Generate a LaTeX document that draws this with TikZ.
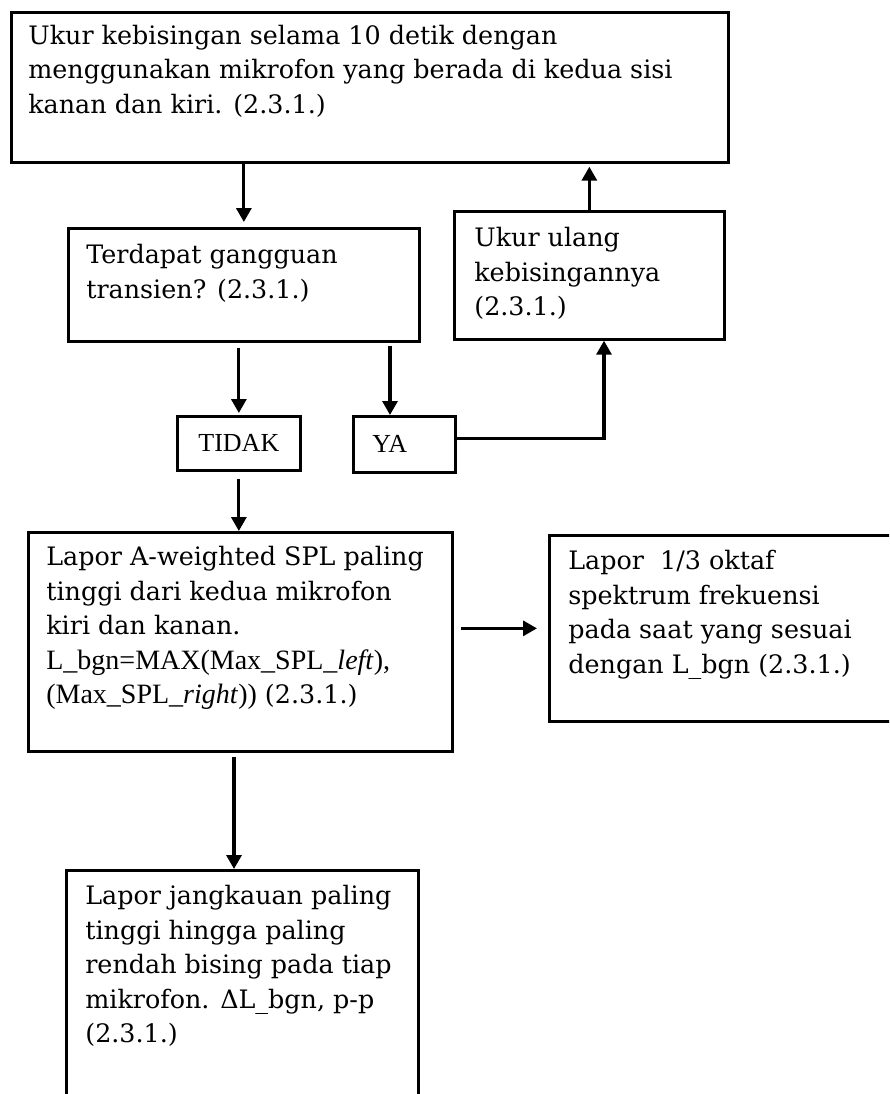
\documentclass[tikz,border=0pt]{standalone}
\usepackage{fontspec}
\setmainfont{DejaVu Serif}
\newfontfamily\tms{Liberation Serif}
\usetikzlibrary{arrows.meta}
\newcommand\bbody[5]{\parbox[c][#1pt][t]{#2pt}{\raggedright\leftskip=#3pt\relax\fontsize{25.4}{34.5}\selectfont\vspace*{#4pt}\strut #5}}
\newcommand\tm[1]{{\tms\fontsize{28}{34.5}\selectfont #1}}
\begin{document}
\begin{tikzpicture}[x=1pt,y=-1pt,
  box/.style={draw, line width=2.7pt, inner sep=0pt, anchor=north west},
  arr/.style={line width=3.2pt, -{Triangle[width=15pt,length=14pt]}}]
\useasboundingbox (0,0) rectangle (889,1094);
\fill[white] (0,0) rectangle (889,1094);
\clip (0,0) rectangle (889,1094);
% boxes
\node[box] (top) at (10,11) {\bbody{150}{717}{17}{8}{\mbox{Ukur kebisingan selama 10 detik dengan}\\\mbox{menggunakan mikrofon yang berada di kedua sisi}\\\mbox{kanan dan kiri. (2.3.1.)}}};
\node[box] (ter) at (67,227) {\bbody{113}{351}{18}{11}{\mbox{Terdapat gangguan}\\\mbox{transien? (2.3.1.)}}};
\node[box] (ulang) at (453,210) {\bbody{128}{270}{20}{11}{\mbox{Ukur ulang}\\\mbox{kebisingannya}\\\mbox{(2.3.1.)}}};
\node[box, minimum width=123pt, minimum height=54pt, font=\tms\fontsize{26}{30}\selectfont] (tidak) at (176,415) {TIDAK};
\node[box] (ya) at (352,415) {\parbox[c][56pt][c]{102pt}{\tms\fontsize{26}{30}\selectfont\hspace*{19pt}YA}};
\node[box] (lapor) at (27,531) {\bbody{219}{424}{18}{9}{\mbox{Lapor A-weighted SPL paling}\\\mbox{tinggi dari kedua mikrofon}\\\mbox{kiri dan kanan.}\\\mbox{\tm{L\_bgn=MAX(Max\_SPL\_\textit{left}),}}\\\mbox{\tm{(Max\_SPL\_\textit{right}))} (2.3.1.)}}};
\node[box] (oktaf) at (548,534) {\bbody{186}{360}{19}{10}{\mbox{Lapor\ \ 1/3 oktaf}\\\mbox{spektrum frekuensi}\\\mbox{pada saat yang sesuai}\\\mbox{dengan L\_bgn (2.3.1.)}}};
\node[box] (bot) at (65,869) {\bbody{260}{352}{19}{10}{\mbox{Lapor jangkauan paling}\\\mbox{tinggi hingga paling}\\\mbox{rendah bising pada tiap}\\\mbox{mikrofon. ΔL\_bgn, p-p}\\\mbox{(2.3.1.)}}};
% helper x positions
\coordinate (cya) at (390,0);
\coordinate (cret) at (604,0);
\coordinate (cbot) at (234,0);
% connectors
\draw[arr, shorten >=5pt] (top.south -| ter.north) -- (ter.north);
\draw[arr, shorten >=3pt] (ulang.north) -- (ulang.north |- top.south);
\draw[arr, shorten <=5pt, shorten >=2pt] (tidak.north |- ter.south) -- (tidak.north);
\draw[arr, shorten <=3pt] (cya |- ter.south) -- (cya |- ya.north);
\draw[arr] ([yshift=6pt]ya.east) -| (cret |- ulang.south);
\draw[arr, shorten <=7pt] (tidak.south) -- (tidak.south |- lapor.north);
\draw[arr, shorten <=7pt, shorten >=11pt] (lapor.east |- oktaf.west) -- (oktaf.west);
\draw[arr, shorten <=4pt] (cbot |- lapor.south) -- (cbot |- bot.north);
\end{tikzpicture}
\end{document}
